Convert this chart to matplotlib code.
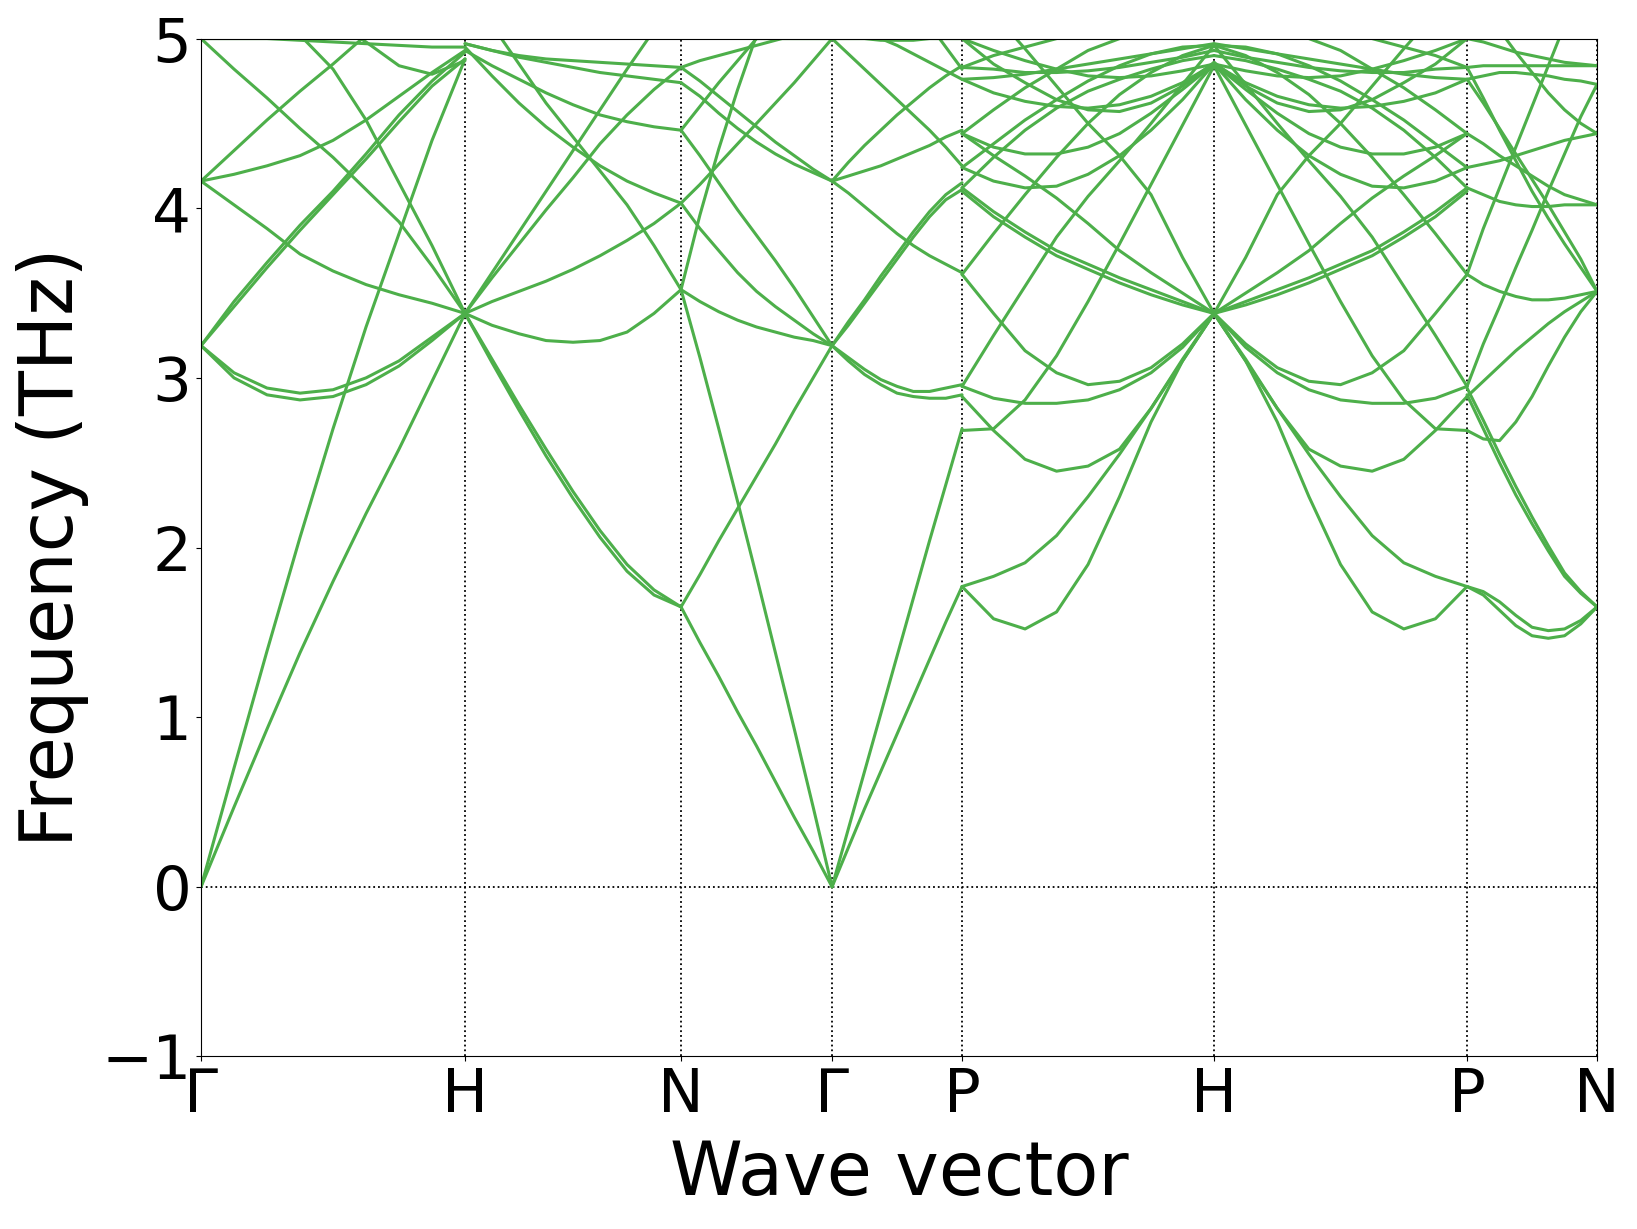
import numpy as np
import matplotlib
matplotlib.use("Agg")
import matplotlib.pyplot as plt

# ---------------- data ----------------
labels = ["Γ", "H", "N", "Γ", "P", "H", "P", "N"]
path_distance = [0.0, 0.264, 0.480, 0.631, 0.761, 1.013, 1.266, 1.396]
k_frac = [0.0, 0.125, 0.25, 0.375, 0.5, 0.625, 0.75, 0.875, 1.0]

# Gamma -> H
seg_GH = [
    [0, 0.47, 0.93, 1.38, 1.80, 2.20, 2.58, 2.98, 3.38],
    [0, 0.70, 1.39, 2.06, 2.70, 3.30, 3.85, 4.40, 4.88],
    [3.19, 3.03, 2.94, 2.91, 2.93, 3.00, 3.10, 3.24, 3.38],
    [3.19, 3.00, 2.90, 2.87, 2.89, 2.96, 3.07, 3.22, 3.38],
    [3.19, 3.45, 3.68, 3.90, 4.10, 4.32, 4.55, 4.75, 4.92],
    [3.19, 3.42, 3.65, 3.87, 4.08, 4.29, 4.51, 4.72, 4.88],
    [4.16, 4.34, 4.52, 4.69, 4.85, 5.02, 5.2, 5.3, 5.3],
    [4.16, 4.20, 4.25, 4.31, 4.40, 4.52, 4.66, 4.80, 4.93],
    [4.16, 4.02, 3.88, 3.73, 3.63, 3.55, 3.49, 3.44, 3.38],
    [5.0, 4.82, 4.65, 4.47, 4.30, 4.11, 3.92, 3.66, 3.38],
    [5.3, 5.3, 5.3, 5.02, 4.82, 4.52, 4.15, 3.78, 3.38],
    [5.0, 5.0, 5.0, 4.99, 4.98, 4.97, 4.96, 4.95, 4.95],
    [5.3, 5.3, 5.3, 5.3, 5.1, 4.98, 4.84, 4.79, 4.87],
]

# H -> N
seg_HN = [
    [3.38, 3.11, 2.84, 2.58, 2.33, 2.10, 1.90, 1.75, 1.65],
    [3.38, 3.09, 2.81, 2.54, 2.29, 2.06, 1.86, 1.72, 1.65],
    [3.38, 3.31, 3.26, 3.22, 3.21, 3.22, 3.27, 3.38, 3.52],
    [3.38, 3.45, 3.51, 3.57, 3.64, 3.72, 3.81, 3.91, 4.03],
    [3.38, 3.62, 3.86, 4.10, 4.34, 4.58, 4.82, 5.05, 5.3],
    [3.38, 3.59, 3.79, 3.99, 4.18, 4.38, 4.55, 4.70, 4.83],
    [5.3, 5.08, 4.85, 4.62, 4.42, 4.22, 4.02, 3.78, 3.52],
    [4.95, 4.78, 4.62, 4.48, 4.36, 4.25, 4.16, 4.09, 4.03],
    [4.93, 4.84, 4.76, 4.68, 4.61, 4.55, 4.51, 4.48, 4.46],
    [4.97, 4.93, 4.89, 4.86, 4.83, 4.80, 4.78, 4.76, 4.74],
    [4.97, 4.93, 4.90, 4.88, 4.87, 4.86, 4.85, 4.84, 4.83],
]

# N -> Gamma
seg_NG = [
    [1.65, 1.44, 1.24, 1.03, 0.83, 0.62, 0.41, 0.21, 0.0],
    [1.65, 1.84, 2.04, 2.23, 2.42, 2.61, 2.81, 3.00, 3.19],
    [3.52, 3.12, 2.70, 2.27, 1.83, 1.38, 0.93, 0.47, 0.0],
    [3.52, 3.96, 4.35, 4.70, 5.02, 5.3, 5.3, 5.3, 5.3],
    [3.52, 3.45, 3.39, 3.34, 3.30, 3.27, 3.24, 3.22, 3.19],
    [4.03, 3.88, 3.75, 3.62, 3.51, 3.42, 3.34, 3.26, 3.19],
    [4.03, 4.14, 4.26, 4.38, 4.50, 4.62, 4.74, 4.87, 5.0],
    [4.46, 4.31, 4.15, 3.99, 3.84, 3.69, 3.53, 3.36, 3.19],
    [4.46, 4.60, 4.74, 4.87, 5.0, 5.12, 5.25, 5.3, 5.3],
    [4.74, 4.66, 4.56, 4.47, 4.39, 4.32, 4.26, 4.21, 4.16],
    [4.83, 4.75, 4.66, 4.57, 4.48, 4.39, 4.31, 4.23, 4.16],
    [4.83, 4.87, 4.90, 4.93, 4.96, 4.99, 5.02, 5.05, 5.08],
    [5.3, 5.2, 5.1, 5.02, 5.0, 5.0, 5.0, 5.0, 5.0],
]

# Gamma -> P
seg_GP = [
    [0, 0.23, 0.46, 0.68, 0.90, 1.12, 1.34, 1.56, 1.77],
    [0, 0.34, 0.68, 1.02, 1.36, 1.70, 2.04, 2.37, 2.70],
    [3.19, 3.12, 3.05, 2.99, 2.95, 2.92, 2.92, 2.94, 2.96],
    [3.19, 3.10, 3.02, 2.96, 2.91, 2.89, 2.88, 2.88, 2.90],
    [3.19, 3.33, 3.46, 3.60, 3.73, 3.86, 3.98, 4.08, 4.15],
    [3.19, 3.31, 3.44, 3.57, 3.70, 3.83, 3.95, 4.05, 4.11],
    [4.16, 4.09, 4.01, 3.93, 3.85, 3.78, 3.72, 3.67, 3.62],
    [4.16, 4.19, 4.22, 4.25, 4.29, 4.33, 4.37, 4.42, 4.46],
    [4.16, 4.27, 4.37, 4.46, 4.55, 4.63, 4.71, 4.78, 4.84],
    [5.0, 4.91, 4.82, 4.73, 4.64, 4.55, 4.46, 4.36, 4.25],
    [5.3, 5.3, 5.3, 5.3, 5.3, 5.2, 5.08, 4.95, 4.82],
    [5.0, 5.0, 5.0, 4.99, 4.99, 4.99, 5.0, 5.0, 5.0],
    [5.1, 5.1, 5.05, 5.0, 4.96, 4.91, 4.86, 4.81, 4.76],
]

# P -> H
seg_PH = [
    [1.77, 1.58, 1.52, 1.62, 1.90, 2.30, 2.74, 3.10, 3.38],
    [1.77, 1.83, 1.91, 2.07, 2.30, 2.55, 2.82, 3.10, 3.38],
    [2.89, 2.69, 2.52, 2.45, 2.48, 2.58, 2.82, 3.11, 3.38],
    [2.95, 2.88, 2.85, 2.85, 2.87, 2.93, 3.03, 3.18, 3.38],
    [3.61, 3.38, 3.16, 3.03, 2.96, 2.98, 3.06, 3.20, 3.38],
    [2.95, 3.25, 3.54, 3.83, 4.07, 4.28, 4.50, 4.73, 4.96],
    [2.69, 2.70, 2.87, 3.13, 3.45, 3.79, 4.14, 4.49, 4.84],
    [5.3, 5.15, 4.94, 4.72, 4.50, 4.31, 4.08, 3.71, 3.38],
    [4.12, 3.98, 3.86, 3.75, 3.67, 3.59, 3.52, 3.45, 3.38],
    [4.10, 3.95, 3.83, 3.72, 3.64, 3.56, 3.49, 3.43, 3.38],
    [4.44, 4.31, 4.19, 4.06, 3.91, 3.75, 3.62, 3.50, 3.38],
    [4.12, 4.30, 4.46, 4.59, 4.69, 4.76, 4.82, 4.87, 4.90],
    [4.44, 4.58, 4.71, 4.82, 4.93, 5.0, 5.05, 5.1, 5.1],
    [3.61, 3.85, 4.08, 4.30, 4.50, 4.67, 4.80, 4.90, 4.96],
    [4.44, 4.36, 4.32, 4.32, 4.36, 4.44, 4.56, 4.70, 4.85],
    [4.24, 4.16, 4.12, 4.13, 4.20, 4.31, 4.46, 4.64, 4.85],
    [4.24, 4.38, 4.52, 4.64, 4.75, 4.84, 4.91, 4.95, 4.96],
    [4.83, 4.82, 4.80, 4.80, 4.81, 4.83, 4.86, 4.89, 4.93],
    [4.76, 4.77, 4.79, 4.82, 4.85, 4.88, 4.91, 4.94, 4.97],
    [4.83, 4.90, 4.95, 5.0, 5.1, 5.2, 5.3, 5.3, 5.3],
    [4.76, 4.68, 4.63, 4.60, 4.59, 4.61, 4.66, 4.74, 4.85],
    [5.0, 4.85, 4.74, 4.64, 4.58, 4.57, 4.62, 4.72, 4.86],
    [5.0, 4.93, 4.87, 4.82, 4.78, 4.77, 4.78, 4.81, 4.85],
]

# H -> P (mirror image of P -> H in the picture)
seg_HP = [band[::-1] for band in seg_PH]

# P -> N
seg_PN = [
    [1.77, 1.74, 1.68, 1.60, 1.53, 1.51, 1.52, 1.57, 1.65],
    [1.77, 1.72, 1.63, 1.54, 1.48, 1.465, 1.48, 1.55, 1.65],
    [2.94, 2.75, 2.55, 2.36, 2.18, 2.01, 1.85, 1.74, 1.65],
    [2.90, 2.70, 2.50, 2.31, 2.14, 1.98, 1.83, 1.73, 1.65],
    [2.69, 2.64, 2.63, 2.74, 2.89, 3.07, 3.24, 3.39, 3.51],
    [2.89, 2.98, 3.07, 3.16, 3.24, 3.32, 3.39, 3.45, 3.51],
    [3.61, 3.55, 3.51, 3.48, 3.46, 3.46, 3.47, 3.49, 3.51],
    [4.76, 4.62, 4.47, 4.32, 4.17, 4.02, 3.86, 3.70, 3.51],
    [4.44, 4.38, 4.31, 4.25, 4.19, 4.13, 4.08, 4.05, 4.02],
    [4.12, 4.08, 4.04, 4.02, 4.01, 4.01, 4.02, 4.02, 4.02],
    [4.24, 4.26, 4.28, 4.31, 4.34, 4.37, 4.40, 4.42, 4.44],
    [3.61, 3.88, 4.12, 4.36, 4.60, 4.84, 5.08, 5.3, 5.3],
    [2.95, 3.20, 3.42, 3.65, 3.87, 4.10, 4.32, 4.54, 4.73],
    [4.83, 4.65, 4.46, 4.28, 4.10, 3.94, 3.79, 3.65, 3.51],
    [4.83, 4.84, 4.84, 4.84, 4.84, 4.84, 4.84, 4.84, 4.84],
    [4.76, 4.78, 4.80, 4.80, 4.79, 4.78, 4.76, 4.75, 4.73],
    [5.3, 5.2, 5.05, 4.92, 4.80, 4.68, 4.58, 4.50, 4.44],
    [5.0, 4.98, 4.95, 4.92, 4.90, 4.88, 4.86, 4.85, 4.84],
]

segments = [seg_GH, seg_HN, seg_NG, seg_GP, seg_PH, seg_HP, seg_PN]
y_ticks = [-1, 0, 1, 2, 3, 4, 5]

# ---------------- plot ----------------
band_color = "#4daf4a"
fig = plt.figure(figsize=(16.37, 12.29), dpi=100)
ax = fig.add_axes([0.1228, 0.1404, 0.8528, 0.8282])

kf = np.array(k_frac)
for i, seg in enumerate(segments):
    x0, x1 = path_distance[i], path_distance[i + 1]
    xs = x0 + kf * (x1 - x0)
    for band in seg:
        ax.plot(xs, band, color=band_color, lw=2.2, solid_joinstyle="round",
                solid_capstyle="round", zorder=2)

for xd in path_distance:
    ax.axvline(xd, color="black", ls=":", lw=1.3, zorder=1)
ax.axhline(0, color="black", ls=":", lw=1.3, zorder=1)

ax.set_xlim(path_distance[0], path_distance[-1])
ax.set_ylim(-1, 5)
ax.set_xticks(path_distance)
ax.set_xticklabels(labels, fontsize=44)
ax.set_yticks(y_ticks)
ax.set_yticklabels([f"{v}".replace("-", "\u2212") for v in y_ticks], fontsize=44)
ax.set_xlabel("Wave vector", fontsize=53, labelpad=9)
ax.set_ylabel("Frequency (THz)", fontsize=53, labelpad=9)

fig.savefig("out.png", dpi=100)
